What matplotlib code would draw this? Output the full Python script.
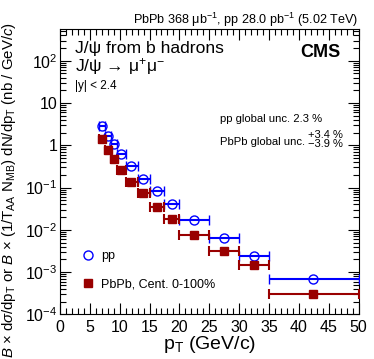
import matplotlib
matplotlib.use('Agg')
import matplotlib.pyplot as plt
from matplotlib.lines import Line2D
from matplotlib.ticker import FixedLocator, LogLocator, MultipleLocator, NullFormatter
import numpy as np

plt.rcParams['font.family'] = ['Liberation Sans', 'DejaVu Sans']
plt.rcParams['mathtext.fontset'] = 'custom'
plt.rcParams['mathtext.rm'] = 'Liberation Sans'
plt.rcParams['mathtext.it'] = 'Liberation Sans:italic'
plt.rcParams['mathtext.bf'] = 'Liberation Sans:bold'

# pT bins (GeV/c)
bin_lo = [6.5, 7.5, 8.5, 9.5, 11, 13, 15, 17.5, 20, 25, 30, 35]
bin_hi = [7.5, 8.5, 9.5, 11, 13, 15, 17.5, 20, 25, 30, 35, 50]
pt_mean = [7.0, 8.0, 9.0, 10.15, 11.9, 13.9, 16.2, 18.7, 22.4, 27.4, 32.5, 42.4]

# B x dsigma/dpT (pp) and B x 1/(TAA NMB) dN/dpT (PbPb), nb/(GeV/c)
pp_vals = [2.79, 1.62, 1.05, 0.62, 0.323, 0.16, 0.083, 0.042, 0.0176, 0.0065, 0.00244, 0.00068]
pbpb_vals = [1.40, 0.76, 0.47, 0.266, 0.135, 0.0747, 0.0348, 0.0186, 0.00738, 0.00315, 0.00147, 0.000304]

ytick_vals = [1e-4, 1e-3, 1e-2, 1e-1, 1, 10, 100]
ytick_labels = [r'$10^{-4}$', r'$10^{-3}$', r'$10^{-2}$', r'$10^{-1}$', '1', '10', r'$10^{2}$']

pt = np.array(pt_mean)
xerr = [pt - np.array(bin_lo), np.array(bin_hi) - pt]

fig = plt.figure(figsize=(3.74, 3.59), dpi=100)
ax = fig.add_axes([0.1604, 0.124, 0.7982, 0.794])

blue = '#0000ff'
red = '#990000'

ax.errorbar(pt, pp_vals, xerr=xerr, fmt='o', color=blue, mfc='none', mec=blue,
            ms=6.5, mew=1.0, elinewidth=1.5, capsize=3.8, capthick=1.5, zorder=3)
ax.errorbar(pt, pbpb_vals, xerr=xerr, fmt='s', color=red, mfc=red, mec=red,
            ms=6.0, elinewidth=1.5, capsize=3.8, capthick=1.5, zorder=3)

ax.set_yscale('log')
ax.set_xlim(0, 50)
ax.set_ylim(1e-4, 550)

ax.xaxis.set_major_locator(MultipleLocator(5))
ax.xaxis.set_minor_locator(MultipleLocator(1))
ax.yaxis.set_major_locator(FixedLocator(ytick_vals))
ax.set_yticklabels(ytick_labels)
ax.yaxis.set_minor_locator(LogLocator(base=10, subs=np.arange(2, 10)))
ax.yaxis.set_minor_formatter(NullFormatter())
ax.tick_params(which='both', direction='in', top=True, right=True, labelsize=11.5, width=0.8)
ax.tick_params(which='major', length=8)
ax.tick_params(which='minor', length=4)
ax.tick_params(axis='y', pad=2)
ax.tick_params(axis='x', pad=4)
for s in ax.spines.values():
    s.set_linewidth(0.8)

ax.set_xlabel(r'p$_\mathrm{T}$ (GeV/c)', fontsize=14, labelpad=-1)
ax.set_ylabel(r'$B$ $\times$ d$\sigma$/dp$_\mathrm{T}$ or $B$ $\times$ (1/T$_\mathrm{AA}$ N$_\mathrm{MB}$) dN/dp$_\mathrm{T}$ (nb / GeV/$c$)',
              fontsize=10.8, loc='top')
ax.yaxis.set_label_coords(-0.142, 1.025)

fig.text(0.957, 0.933, r'PbPb 368 $\mathrm{\mu b^{-1}}$, pp 28.0 pb$^{-1}$ (5.02 TeV)',
         ha='right', va='baseline', fontsize=9.1)
ax.text(0.05, 0.916, 'J/\u03c8 from b hadrons', transform=ax.transAxes, fontsize=12.6, va='baseline')
ax.text(0.05, 0.852, 'J/\u03c8 \u2192 \u03bc$^{+}$\u03bc$^{-}$', transform=ax.transAxes, fontsize=12.6, va='baseline')
ax.text(0.05, 0.790, '|y| < 2.4', transform=ax.transAxes, fontsize=8.5, va='baseline')
ax.text(0.938, 0.904, 'CMS', transform=ax.transAxes, fontsize=13, fontweight='bold',
        ha='right', va='baseline')
ax.text(0.536, 0.674, 'pp global unc. 2.3 %', transform=ax.transAxes, fontsize=8.1, va='baseline')
ax.text(0.536, 0.594, 'PbPb global unc.', transform=ax.transAxes, fontsize=8.1, va='baseline')
ax.text(0.832, 0.620, '+3.4 %', transform=ax.transAxes, fontsize=8, va='baseline')
ax.text(0.832, 0.587, '\u22123.9 %', transform=ax.transAxes, fontsize=8, va='baseline')

handles = [Line2D([], [], marker='o', ls='none', mfc='none', mec=blue, ms=6.5, mew=1.0),
           Line2D([], [], marker='s', ls='none', mfc=red, mec=red, ms=6.0)]
ax.legend(handles, ['pp', 'PbPb, Cent. 0-100%'], loc='upper left', bbox_to_anchor=(0.072, 0.225),
          frameon=False, fontsize=9, handlelength=1.0, handletextpad=0.6,
          labelspacing=1.3, borderpad=0, borderaxespad=0)

fig.savefig('out.png', dpi=100)
